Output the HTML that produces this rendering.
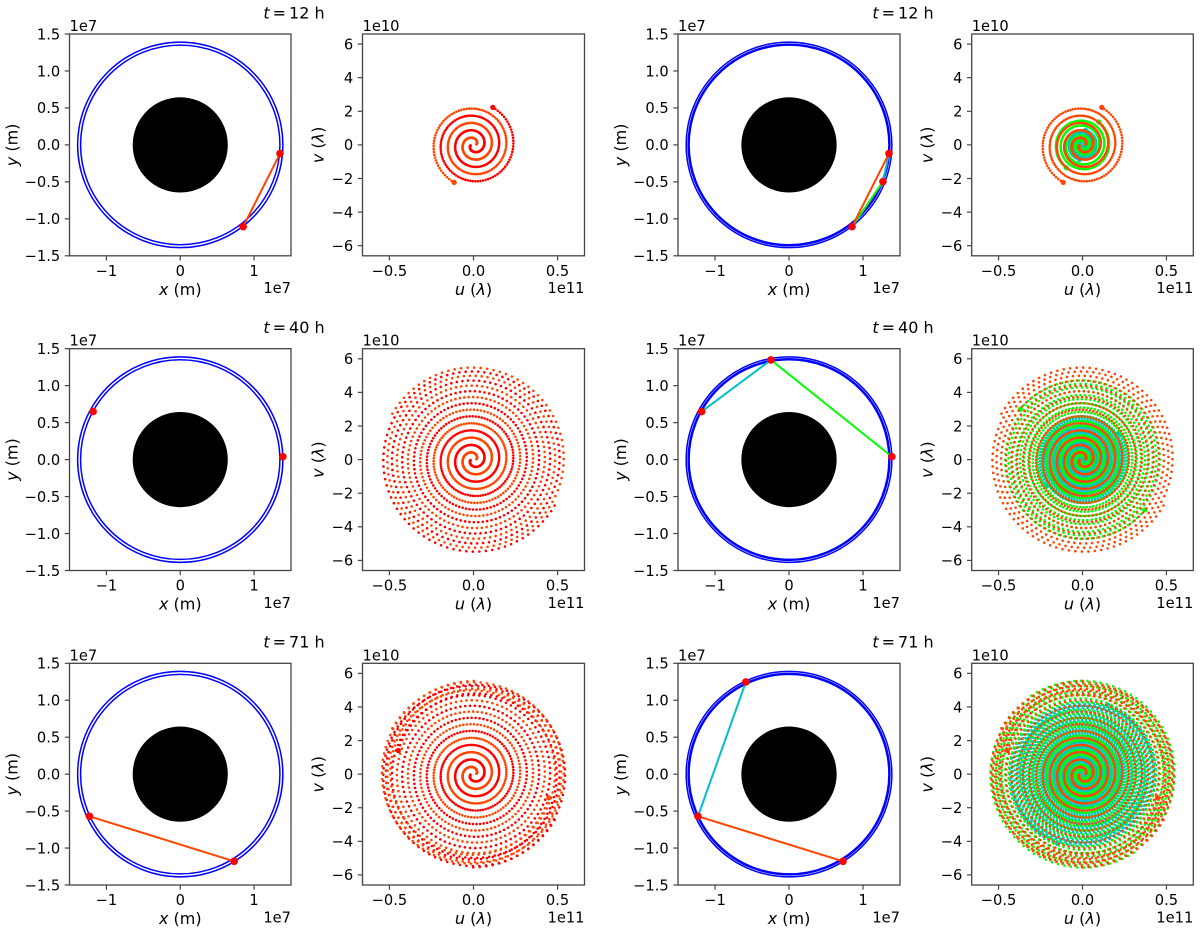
<!DOCTYPE html>
<html lang="en">
<head>
<meta charset="utf-8">
<title>Orbiting interferometer uv coverage</title>
<style>
html,body{margin:0;padding:0;background:#fff;}
svg{display:block;}
text{font-family:"DejaVu Sans","Liberation Sans",sans-serif;fill:#000;}
.lab{font-size:16px;}
.tick{font-size:14.67px;}
.off{font-size:14.67px;}
.mid{text-anchor:middle;}
.end{text-anchor:end;}
i,.it{font-style:italic;}
</style>
</head>
<body>
<svg id="figure" xmlns="http://www.w3.org/2000/svg" width="1200" height="932" viewBox="0 0 1200 932">
  <rect width="1200" height="932" fill="#fff"/>
  <g id="panels"></g>

  <text class="lab mid" x="294" y="18.5"><tspan class="it">t</tspan><tspan dx="3">=</tspan><tspan dx="3">12 h</tspan></text>
  <text class="lab mid" x="903" y="18.5"><tspan class="it">t</tspan><tspan dx="3">=</tspan><tspan dx="3">12 h</tspan></text>
  <text class="lab mid" x="294" y="333"><tspan class="it">t</tspan><tspan dx="3">=</tspan><tspan dx="3">40 h</tspan></text>
  <text class="lab mid" x="903" y="333"><tspan class="it">t</tspan><tspan dx="3">=</tspan><tspan dx="3">40 h</tspan></text>
  <text class="lab mid" x="294" y="647.5"><tspan class="it">t</tspan><tspan dx="3">=</tspan><tspan dx="3">71 h</tspan></text>
  <text class="lab mid" x="903" y="647.5"><tspan class="it">t</tspan><tspan dx="3">=</tspan><tspan dx="3">71 h</tspan></text>

  <text class="lab mid" x="180.25" y="295"><tspan class="it">x</tspan> (m)</text>
  <text class="lab mid" x="473.5" y="295"><tspan class="it">u</tspan> (<tspan class="it">λ</tspan>)</text>
  <text class="lab mid" x="789" y="295"><tspan class="it">x</tspan> (m)</text>
  <text class="lab mid" x="1082.5" y="295"><tspan class="it">u</tspan> (<tspan class="it">λ</tspan>)</text>
  <text class="lab mid" x="180.25" y="609.7"><tspan class="it">x</tspan> (m)</text>
  <text class="lab mid" x="473.5" y="609.7"><tspan class="it">u</tspan> (<tspan class="it">λ</tspan>)</text>
  <text class="lab mid" x="789" y="609.7"><tspan class="it">x</tspan> (m)</text>
  <text class="lab mid" x="1082.5" y="609.7"><tspan class="it">u</tspan> (<tspan class="it">λ</tspan>)</text>
  <text class="lab mid" x="180.25" y="924.2"><tspan class="it">x</tspan> (m)</text>
  <text class="lab mid" x="473.5" y="924.2"><tspan class="it">u</tspan> (<tspan class="it">λ</tspan>)</text>
  <text class="lab mid" x="789" y="924.2"><tspan class="it">x</tspan> (m)</text>
  <text class="lab mid" x="1082.5" y="924.2"><tspan class="it">u</tspan> (<tspan class="it">λ</tspan>)</text>

  <text class="lab mid" transform="translate(17.5,144.9) rotate(-90)"><tspan class="it">y</tspan> (m)</text>
  <text class="lab mid" transform="translate(323.5,144.9) rotate(-90)"><tspan class="it">v</tspan> (<tspan class="it">λ</tspan>)</text>
  <text class="lab mid" transform="translate(626,144.9) rotate(-90)"><tspan class="it">y</tspan> (m)</text>
  <text class="lab mid" transform="translate(932.5,144.9) rotate(-90)"><tspan class="it">v</tspan> (<tspan class="it">λ</tspan>)</text>
  <text class="lab mid" transform="translate(17.5,459.6) rotate(-90)"><tspan class="it">y</tspan> (m)</text>
  <text class="lab mid" transform="translate(323.5,459.6) rotate(-90)"><tspan class="it">v</tspan> (<tspan class="it">λ</tspan>)</text>
  <text class="lab mid" transform="translate(626,459.6) rotate(-90)"><tspan class="it">y</tspan> (m)</text>
  <text class="lab mid" transform="translate(932.5,459.6) rotate(-90)"><tspan class="it">v</tspan> (<tspan class="it">λ</tspan>)</text>
  <text class="lab mid" transform="translate(17.5,774.2) rotate(-90)"><tspan class="it">y</tspan> (m)</text>
  <text class="lab mid" transform="translate(323.5,774.2) rotate(-90)"><tspan class="it">v</tspan> (<tspan class="it">λ</tspan>)</text>
  <text class="lab mid" transform="translate(626,774.2) rotate(-90)"><tspan class="it">y</tspan> (m)</text>
  <text class="lab mid" transform="translate(932.5,774.2) rotate(-90)"><tspan class="it">v</tspan> (<tspan class="it">λ</tspan>)</text>

  <text class="off" x="69.5" y="31">1e7</text>
  <text class="off" x="362.5" y="31">1e10</text>
  <text class="off" x="678" y="31">1e7</text>
  <text class="off" x="971.7" y="31">1e10</text>
  <text class="off" x="69.5" y="345.7">1e7</text>
  <text class="off" x="362.5" y="345.7">1e10</text>
  <text class="off" x="678" y="345.7">1e7</text>
  <text class="off" x="971.7" y="345.7">1e10</text>
  <text class="off" x="69.5" y="660.3">1e7</text>
  <text class="off" x="362.5" y="660.3">1e10</text>
  <text class="off" x="678" y="660.3">1e7</text>
  <text class="off" x="971.7" y="660.3">1e10</text>

  <text class="off end" x="291" y="293.1">1e7</text>
  <text class="off end" x="584.5" y="293.1">1e11</text>
  <text class="off end" x="900" y="293.1">1e7</text>
  <text class="off end" x="1193.3" y="293.1">1e11</text>
  <text class="off end" x="291" y="607.8">1e7</text>
  <text class="off end" x="584.5" y="607.8">1e11</text>
  <text class="off end" x="900" y="607.8">1e7</text>
  <text class="off end" x="1193.3" y="607.8">1e11</text>
  <text class="off end" x="291" y="922.3">1e7</text>
  <text class="off end" x="584.5" y="922.3">1e11</text>
  <text class="off end" x="900" y="922.3">1e7</text>
  <text class="off end" x="1193.3" y="922.3">1e11</text>
</svg>
<script>
// Values.
// NOTE: the individual uv dots are too dense to read one at a time. They are computed
// from the read orbit radii, rates, phases and wavelength below, not read dot by dot.
const snapshotHours = [12.1, 40, 71];
const satAX = [1.351, -1.18, -1.23];      // units of 1e7 m
const satAY = [-0.117, 0.65, -0.57];
const satBX = [0.852, 1.39, 0.73];
const satBY = [-1.107, 0.04, -1.18];
const satCX = [1.269, -0.244, -0.583];
const satCY = [-0.497, 1.348, 1.247];

const orbitRadii = [1.35, 1.3637, 1.39];  // units of 1e7 m: sat A, sat C, sat B
const orbitRates = [83.03, 81.782, 79.362]; // degrees per hour: A, C, B
const orbitPhases = [69.77, 68.47, 66.97];  // degrees at t = 0: A, C, B
const earthRadius = [0.644];              // drawn disc, units of 1e7 m
const occlusionRadius = [0.637];          // baseline blocked inside this, units of 1e7 m
const wavelengthM = [4.37e-4];
const sampleStepHours = [0.05];

const orbitXTicks = [-1, 0, 1];
const orbitXTickLabels = ['−1', '0', '1'];
const orbitYTicks = [-1.5, -1, -0.5, 0, 0.5, 1, 1.5];
const orbitYTickLabels = ['−1.5', '−1.0', '−0.5', '0.0', '0.5', '1.0', '1.5'];
const uvXTicks = [-0.5, 0, 0.5];
const uvXTickLabels = ['−0.5', '0.0', '0.5'];
const uvYTicks = [-6, -4, -2, 0, 2, 4, 6];
const uvYTickLabels = ['−6', '−4', '−2', '0', '2', '4', '6'];

const orbitLimit = [1.5];   // axis half-range, 1e7 m
const uvLimit = [6.6];      // axis half-range, 1e10 wavelengths

const colLeft = [69.5, 362.5, 678, 971.7];
const colRight = [291, 584.5, 900, 1193.3];
const rowTop = [34, 348.7, 663.3];
const rowBottom = [255.8, 570.5, 885];

const RED = '#ff0000', ORANGE = '#ff4500', LIME = '#00ff00', TEAL = '#00bfc8', BLUE = '#0000ff', FRAME = '#444444';
const SVGNS = 'http://www.w3.org/2000/svg';
const root = document.getElementById('panels');

function mk(tag, attrs, parent) {
  const e = document.createElementNS(SVGNS, tag);
  for (const k in attrs) e.setAttribute(k, attrs[k]);
  parent.appendChild(e);
  return e;
}

function makeAxis(col, row, limit) {
  const l = colLeft[col], r = colRight[col], t = rowTop[row], b = rowBottom[row];
  const cx = (l + r) / 2, cy = (t + b) / 2;
  return {
    l: l, r: r, t: t, b: b,
    kx: (r - l) / (2 * limit),
    ky: (b - t) / (2 * limit),
    x: function (v) { return cx + v * (r - l) / (2 * limit); },
    y: function (v) { return cy - v * (b - t) / (2 * limit); }
  };
}

function drawFrame(g, ax, xTicks, xLabels, yTicks, yLabels, xMul) {
  const frame = mk('rect', { x: ax.l, y: ax.t, width: ax.r - ax.l, height: ax.b - ax.t, fill: 'none', stroke: FRAME, 'stroke-width': 1.3 }, g);
  
  
  xTicks.forEach(function (v, i) {
    const px = ax.x(v * xMul);
    const tk = mk('line', { x1: px, x2: px, y1: ax.b, y2: ax.b + 4.7, stroke: FRAME, 'stroke-width': 1.2 }, g);
    
    
    const lb = mk('text', { x: px, y: ax.b + 20.2, class: 'tick mid' }, g);
    lb.textContent = xLabels[i];
    
    
  });
  yTicks.forEach(function (v, i) {
    const py = ax.y(v);
    const tk = mk('line', { x1: ax.l - 4.7, x2: ax.l, y1: py, y2: py, stroke: FRAME, 'stroke-width': 1.2 }, g);
    
    
    const lb = mk('text', { x: ax.l - 9.3, y: py + 5.3, class: 'tick end' }, g);
    lb.textContent = yLabels[i];
    
    
  });
}

function isClear(x1, y1, x2, y2) {
  const d = Math.hypot(x1 - x2, y1 - y2);
  if (d === 0) return true;
  return Math.abs(x1 * y2 - x2 * y1) / d > occlusionRadius[0];
}

function drawOrbitPanel(col, row, threeSats) {
  const g = mk('g', {}, root);
  
  
  const ax = makeAxis(col, row, orbitLimit[0]);
  const earth = mk('ellipse', { cx: ax.x(0), cy: ax.y(0), rx: earthRadius[0] * ax.kx, ry: earthRadius[0] * ax.ky, fill: '#000' }, g);
  
  
  orbitRadii.forEach(function (rad, i) {
    if (!threeSats && i === 1) return;
    const ring = mk('ellipse', { cx: ax.x(0), cy: ax.y(0), rx: rad * ax.kx, ry: rad * ax.ky, fill: 'none', stroke: BLUE, 'stroke-width': 1.5 }, g);
    
    
  });
  const A = [satAX[row], satAY[row]], B = [satBX[row], satBY[row]], C = [satCX[row], satCY[row]];
  const links = threeSats ? [[A, C, TEAL], [C, B, LIME], [A, B, ORANGE]] : [[A, B, ORANGE]];
  links.forEach(function (lk) {
    if (!isClear(lk[0][0], lk[0][1], lk[1][0], lk[1][1])) return;
    const ln = mk('line', { x1: ax.x(lk[0][0]), y1: ax.y(lk[0][1]), x2: ax.x(lk[1][0]), y2: ax.y(lk[1][1]), stroke: lk[2], 'stroke-width': 2 }, g);
    
    
  });
  (threeSats ? [A, B, C] : [A, B]).forEach(function (s) {
    const dot = mk('circle', { cx: ax.x(s[0]), cy: ax.y(s[1]), r: 3.8, fill: RED }, g);
    
    
  });
  drawFrame(g, ax, orbitXTicks, orbitXTickLabels, orbitYTicks, orbitYTickLabels, 1);
}

function satPos(i, t) {
  const a = (orbitPhases[i] + orbitRates[i] * t) * Math.PI / 180;
  return [orbitRadii[i] * Math.cos(a), orbitRadii[i] * Math.sin(a)];
}

function drawTrack(g, ax, i, j, tEnd, sign, color) {
  const scale = 1e7 / wavelengthM[0] / 1e10;   // 1e7 m -> 1e10 wavelengths
  const dt = sampleStepHours[0];
  const n = Math.floor(tEnd / dt);
  const group = mk('g', { fill: color }, g);
  
  
  for (let k = 0; k <= n + 1; k++) {
    const last = k === n + 1;
    const t = last ? tEnd : k * dt;
    const p = satPos(i, t), q = satPos(j, t);
    if (!isClear(p[0], p[1], q[0], q[1])) continue;
    const u = sign * (p[0] - q[0]) * scale, v = sign * (p[1] - q[1]) * scale;
    const dot = mk('circle', { cx: ax.x(u).toFixed(2), cy: ax.y(v).toFixed(2), r: last ? 2.6 : 1.3 }, group);
    
    
  }
}

function drawUvPanel(col, row, threeSats) {
  const g = mk('g', {}, root);
  
  
  const ax = makeAxis(col, row, uvLimit[0]);
  const t = snapshotHours[row];
  if (threeSats) {
    drawTrack(g, ax, 0, 1, t, 1, TEAL);
    drawTrack(g, ax, 0, 1, t, -1, TEAL);
    drawTrack(g, ax, 1, 2, t, 1, LIME);
    drawTrack(g, ax, 1, 2, t, -1, LIME);
    drawTrack(g, ax, 0, 2, t, 1, ORANGE);
    drawTrack(g, ax, 0, 2, t, -1, ORANGE);
  } else {
    drawTrack(g, ax, 0, 2, t, 1, RED);
    drawTrack(g, ax, 0, 2, t, -1, ORANGE);
  }
  drawFrame(g, ax, uvXTicks, uvXTickLabels, uvYTicks, uvYTickLabels, 10);
}

for (let row = 0; row < 3; row++) {
  drawOrbitPanel(0, row, false);
  drawUvPanel(1, row, false);
  drawOrbitPanel(2, row, true);
  drawUvPanel(3, row, true);
}
</script>
</body>
</html>
